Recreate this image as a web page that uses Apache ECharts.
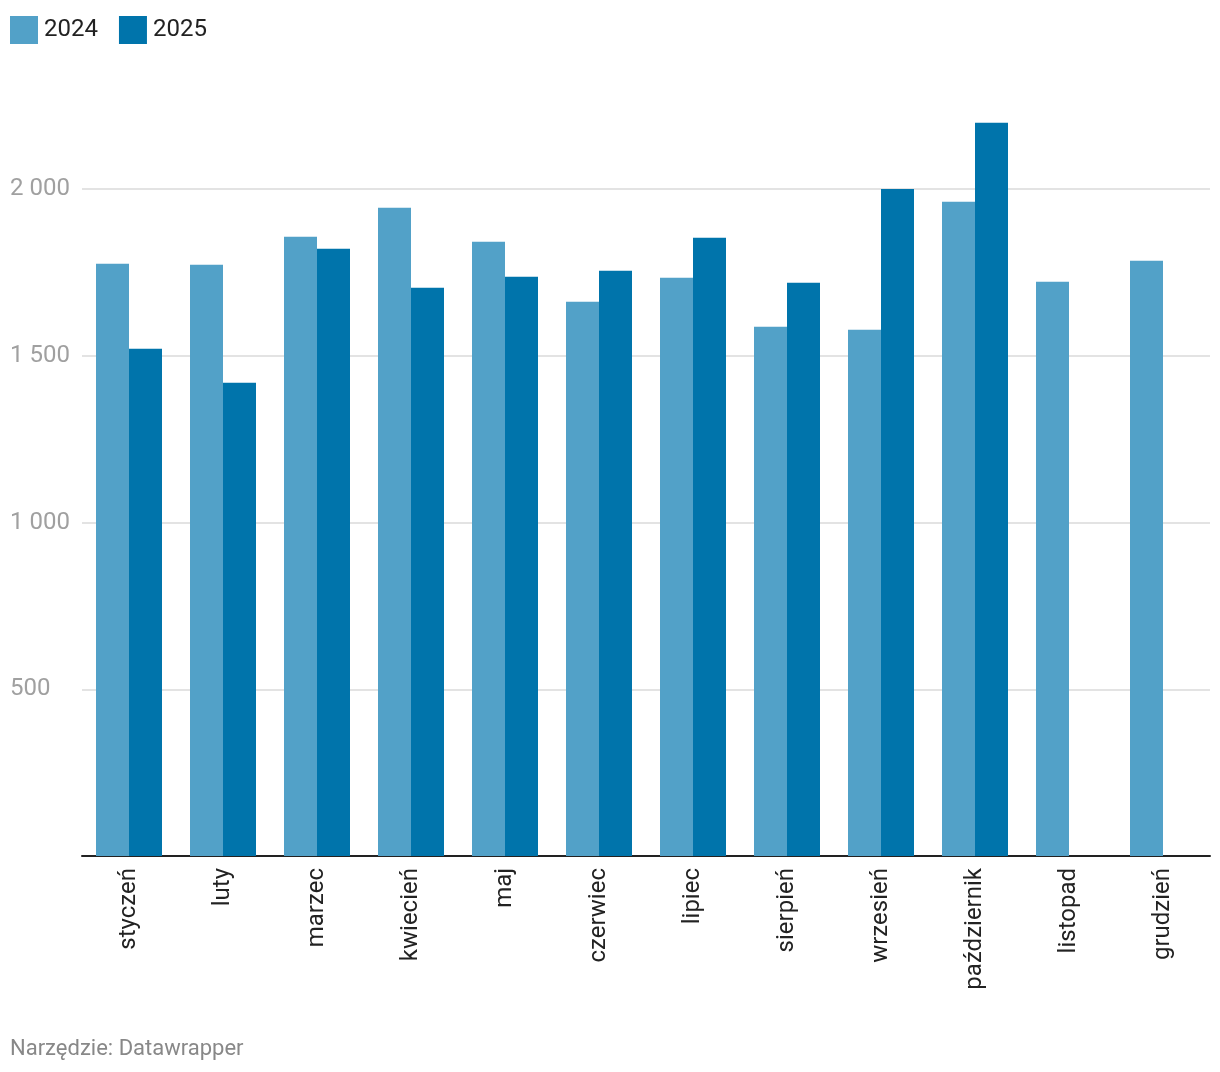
<!DOCTYPE html>
<html>
<head>
<meta charset="utf-8">
<script src="https://cdn.jsdelivr.net/npm/echarts@6/dist/echarts.min.js"></script>
<style>
html,body{margin:0;padding:0;background:#fff;}
#chart{width:1220px;height:1072px;}
</style>
</head>
<body>
<div id="chart"></div>
<script>
const months = ['styczeń','luty','marzec','kwiecień','maj','czerwiec','lipiec','sierpień','wrzesień','październik','listopad','grudzień'];
const values2024 = [1776, 1773, 1857, 1944, 1842, 1662, 1734, 1587, 1578, 1962, 1722, 1785];
const values2025 = [1521, 1419, 1821, 1704, 1737, 1755, 1854, 1719, 2000, 2199, null, null];
const yTicks = [0, 500, 1000, 1500, 2000];

const chart = echarts.init(document.getElementById('chart'));
const font = 'Roboto, "Noto Sans", sans-serif';
chart.setOption({
  animation: false,
  textStyle: { fontFamily: font },
  legend: {
    left: 5, top: 11,
    itemWidth: 28, itemHeight: 28, itemGap: 21,
    icon: 'rect',
    textStyle: { fontSize: 24, color: '#222', fontFamily: font, padding: [0,0,0,1] },
    data: ['2024','2025']
  },
  grid: { left: 82, right: 10, top: 122.3, bottom: 216 },
  xAxis: {
    type: 'category',
    data: months,
    axisLine: { lineStyle: { color: '#222', width: 2 } },
    axisTick: { show: false },
    axisLabel: { rotate: 90, fontSize: 24, color: '#222', margin: 12, interval: 0, fontFamily: font }
  },
  yAxis: {
    type: 'value',
    min: 0, max: 2200, interval: 500,
    axisLine: { show: false },
    axisTick: { show: false },
    axisLabel: {
      align: 'left', margin: 72, fontSize: 24, color: '#a0a0a0', fontFamily: font,
      padding: [4, 0, 0, 0],
      formatter: function (v) {
        if (v === 0 || yTicks.indexOf(v) < 0) return '';
        return String(v).replace(/\B(?=(\d{3})+(?!\d))/g, ' ');
      }
    },
    splitLine: { lineStyle: { color: ['rgba(0,0,0,0)','#e3e3e3','#e3e3e3','#e3e3e3','#e3e3e3','rgba(0,0,0,0)'], width: 2 } }
  },
  series: [
    { name: '2024', type: 'bar', data: values2024, barWidth: 33, barGap: '0%', itemStyle: { color: '#52a1c8' } },
    { name: '2025', type: 'bar', data: values2025, barWidth: 33, barGap: '0%', itemStyle: { color: '#0074ab' } }
  ],
  graphic: [{
    type: 'text', left: 10, top: 1038,
    style: { text: 'Narzędzie: Datawrapper', fontSize: 22, fill: '#888', fontFamily: font }
  }]
});
</script>
</body>
</html>
